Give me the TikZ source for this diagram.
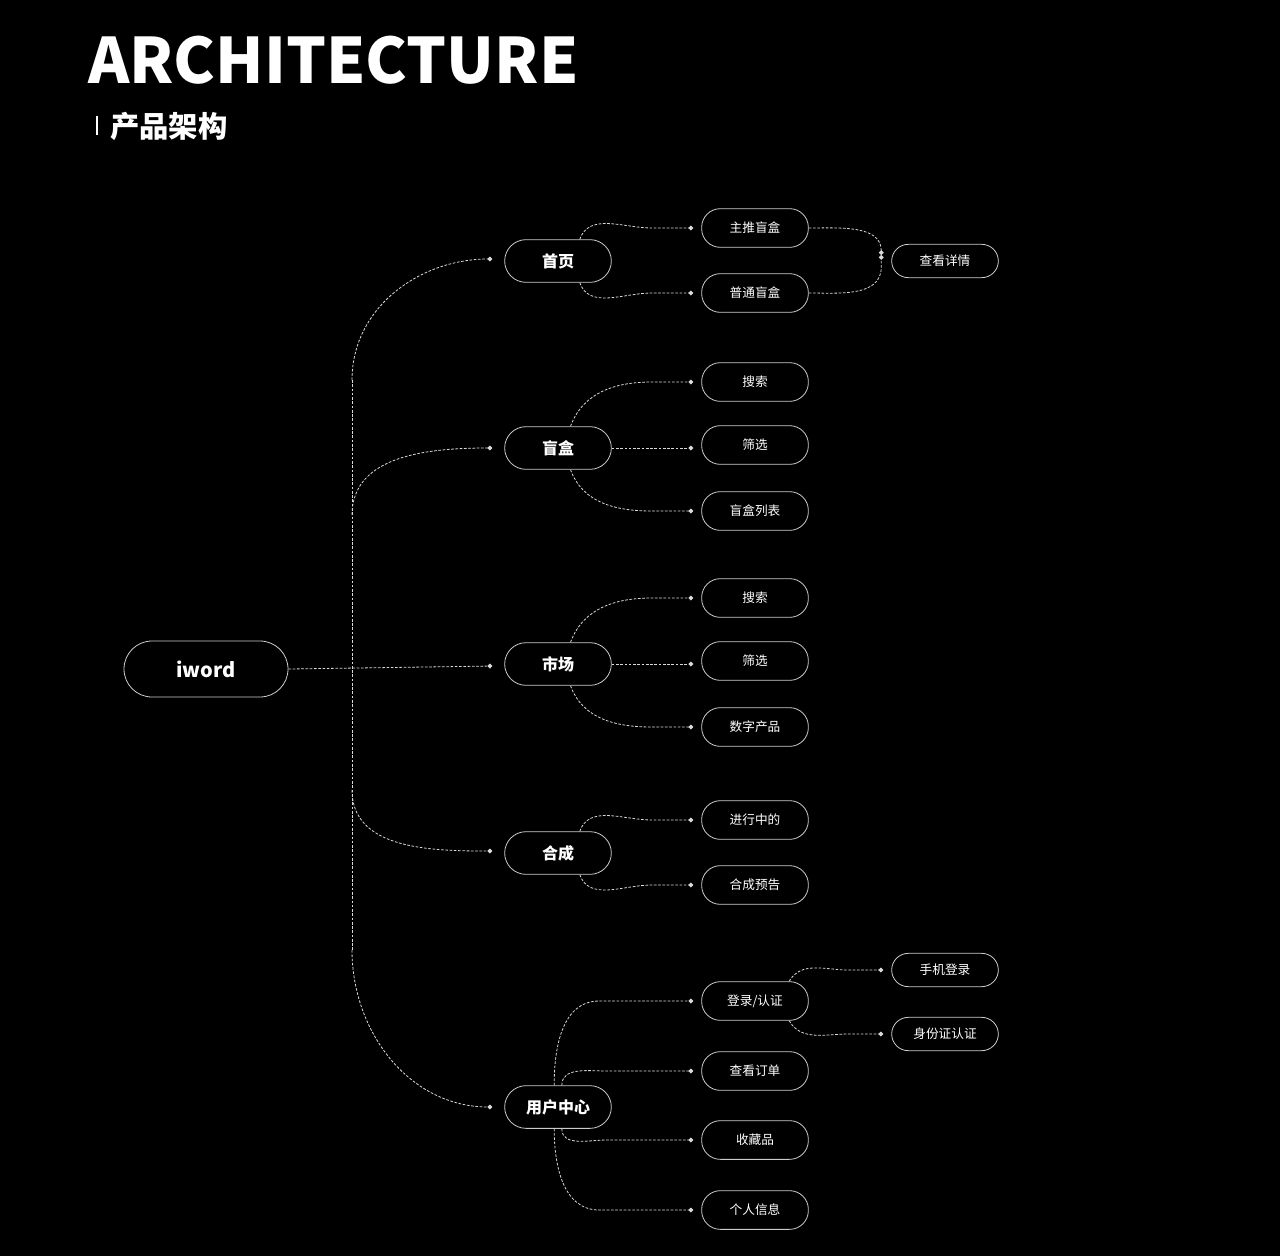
\documentclass[tikz,border=0pt]{standalone}
\usepackage{fontspec}
\setmainfont{Noto Sans CJK SC}
\usetikzlibrary{positioning,arrows.meta,calc}

\begin{document}
\begin{tikzpicture}[
  x=0.75pt, y=-0.75pt,
  font=\footnotesize, text=white,
  pill/.style={draw=white!80!black, line width=0.6pt, rounded corners=#1, align=center, inner sep=0pt},
  root/.style={pill=21pt, minimum width=123pt, minimum height=42pt, font=\bfseries\fontsize{15}{18}\selectfont},
  main/.style={pill=16pt, minimum width=80pt, minimum height=32pt, font=\bfseries\fontsize{12}{14}\selectfont},
  sub/.style={pill=14pt, minimum width=80pt, minimum height=29pt, font=\fontsize{9.5}{12}\selectfont},
  leaf/.style={pill=12.5pt, minimum width=80pt, minimum height=25pt, font=\fontsize{9.5}{12}\selectfont},
  link/.style={draw=white!85!black, line width=0.6pt, dash pattern=on 2pt off 1.2pt, -{Circle[length=3.5pt]}}
]
\fill[black] (0,0) rectangle (1280,1256);

% Title
\node[anchor=west, inner sep=0pt, font=\bfseries\fontsize{47}{50}\selectfont] (title) at (88,60) {ARCHITECTURE};
\draw[white, line width=1.5pt] (97,116) coordinate (barT) -- (97,135) coordinate (barB);
\node[anchor=west, inner sep=0pt, font=\bfseries\fontsize{22}{26}\selectfont] (subtitle) at (110,126) {产品架构};

% Nodes
\node[root] (iword) at (206,669) {iword};

\node[main] (home)   at (558,261)  {首页};
\node[main] (box)    at (558,448)  {盲盒};
\node[main] (market) at (558,664)  {市场};
\node[main] (merge)  at (558,853)  {合成};
\node[main] (user)   at (558,1107) {用户中心};

\node[sub] (hot)    at (755,228)  {主推盲盒};
\node[sub] (normal) at (755,293)  {普通盲盒};
\node[sub] (bsearch) at (755,382) {搜索};
\node[sub] (bfilter) at (755,445) {筛选};
\node[sub] (blist)   at (755,511) {盲盒列表};
\node[sub] (msearch) at (755,598) {搜索};
\node[sub] (mfilter) at (755,661) {筛选};
\node[sub] (digital) at (755,727) {数字产品};
\node[sub] (going)   at (755,820) {进行中的};
\node[sub] (notice)  at (755,885) {合成预告};
\node[sub] (login)   at (755,1001) {登录/认证};
\node[sub] (order)   at (755,1071) {查看订单};
\node[sub] (fav)     at (755,1140) {收藏品};
\node[sub] (info)    at (755,1210) {个人信息};

\node[leaf] (detail) at (945,261)  {查看详情};
\node[leaf] (phone)  at (945,970)  {手机登录};
\node[leaf] (idcard) at (945,1034) {身份证认证};

% Trunk
\coordinate (ttop) at (352,380);
\coordinate (tbox) at (352,515);
\coordinate (tmerge) at (352,790);
\coordinate (tbot) at (352,950);
\draw[link, -] (ttop) -- (tbot);
\draw[link] (ttop) to[out=90,in=180] ($(home.west)+(-12,-2)$);
\draw[link] (tbox) to[out=90,in=180] ($(box.west)+(-12,0)$);
\draw[link] (iword.east) -- ($(market.west)+(-12,2)$);
\draw[link] (tmerge) to[out=-90,in=180] ($(merge.west)+(-12,-2)$);
\draw[link] (tbot) to[out=-90,in=180] ($(user.west)+(-12,0)$);

% Level 2
\foreach \p/\c/\a in {home/hot/45, home/normal/-45, box/bsearch/60, box/blist/-60,
                      market/msearch/60, market/digital/-60, merge/going/45, merge/notice/-45}
  \draw[link] (\p.\a) to[out={\a>0?70:-70},in=180] ($(\p.east |- \c.west)+(40,0)$) -- ($(\c.west)+(-8,0)$);
\draw[link] (box.east) -- ($(bfilter.west)+(-8,3)$);
\draw[link] (market.east) -- ($(mfilter.west)+(-8,3)$);
\foreach \c/\a/\o in {login/100/90, order/80/90, fav/-80/-90, info/-100/-90}
  \draw[link] (user.\a) to[out=\o,in=180] ($(user.\a |- \c.west)+(45,0)$) -- ($(\c.west)+(-8,0)$);

% Level 3
\draw[link] (hot.east) to[out=0,in=90] ($(detail.west)+(-10,-6)$) coordinate (jd);
\draw[link] (normal.east) to[out=0,in=-90] ($(detail.west)+(-10,6)$) -- (jd);
\draw[link] (login.-30) to[out=-60,in=180] ($(login.east |- idcard.west)+(40,0)$) -- ($(idcard.west)+(-8,0)$);
\draw[link] (login.30) to[out=60,in=180] ($(login.east |- phone.west)+(40,0)$) -- ($(phone.west)+(-8,0)$);
\end{tikzpicture}
\end{document}
